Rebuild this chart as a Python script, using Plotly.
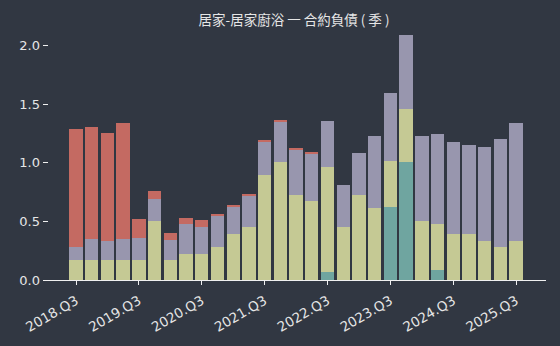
import plotly.graph_objects as go

quarters = []
for y in range(2018, 2026):
    for q in range(1, 5):
        if (y == 2018 and q < 3) or (y == 2025 and q > 3):
            continue
        quarters.append(f"{y}.Q{q}")

tick_labels = [q for q in quarters if q.endswith("Q3")]

# stacked segment heights (bottom -> top)
teal = [0, 0, 0, 0, 0, 0, 0, 0, 0, 0, 0, 0, 0, 0, 0, 0,
        0.068, 0, 0, 0, 0.621, 1.004, 0, 0.085, 0, 0, 0, 0, 0]
yellow_top = [0.170, 0.170, 0.170, 0.170, 0.170, 0.502, 0.170, 0.221, 0.221, 0.281,
              0.394, 0.454, 0.896, 1.007, 0.726, 0.672, 0.965, 0.454, 0.726, 0.616,
              1.013, 1.455, 0.502, 0.477, 0.391, 0.391, 0.332, 0.281, 0.332]
purple_top = [0.281, 0.349, 0.335, 0.349, 0.357, 0.689, 0.340, 0.477, 0.454, 0.548,
              0.627, 0.718, 1.177, 1.353, 1.115, 1.075, 1.353, 0.809, 1.081, 1.226,
              1.591, 2.085, 1.226, 1.243, 1.174, 1.149, 1.132, 1.200, 1.336]
red_top = [1.285, 1.302, 1.251, 1.336, 0.519, 0.757, 0.403, 0.528, 0.511, 0.565,
           0.633, 0.735, 1.186, 1.362, 1.123, 1.084, 1.353, 0.809, 1.081, 1.226,
           1.591, 2.085, 1.226, 1.243, 1.174, 1.149, 1.132, 1.200, 1.336]

yellow = [round(a - b, 3) for a, b in zip(yellow_top, teal)]
purple = [round(a - b, 3) for a, b in zip(purple_top, yellow_top)]
red = [round(a - b, 3) for a, b in zip(red_top, purple_top)]

series = [
    ("合約負債A", teal, "#6fa5a0"),
    ("合約負債B", yellow, "#c5c994"),
    ("合約負債C", purple, "#9896ae"),
    ("合約負債D", red, "#c46a62"),
]

bg = "#313742"
fig = go.Figure()
for name, vals, col in series:
    fig.add_trace(go.Bar(x=quarters, y=vals, name=name, marker=dict(color=col, line=dict(width=0))))

fig.update_layout(
    barmode="stack",
    bargap=0.15,
    width=560, height=346,
    paper_bgcolor=bg, plot_bgcolor=bg,
    margin=dict(l=43, r=14, t=22, b=66),
    showlegend=False,
    title=dict(text="居家-居家廚浴 一 合約負債 ( 季 )", x=0.525, xanchor="center", y=0.94, yanchor="middle",
               font=dict(family="Noto Sans CJK TC", size=13.5, color="#e6e6e6")),
    font=dict(family="DejaVu Sans", color="#e6e6e6", size=12),
    xaxis=dict(
        type="category",
        range=[-2.1, 29.9],
        tickmode="array", tickvals=tick_labels, ticktext=tick_labels,
        tickangle=-30,
        ticks="outside", ticklen=4, tickcolor="#f0f0f0", tickwidth=1,
        showline=True, linecolor="#f0f0f0", linewidth=1,
        showgrid=False, zeroline=False,
        tickfont=dict(size=13.5, color="#e6e6e6"),
        ticklabelstandoff=3,
    ),
    yaxis=dict(
        range=[0, 2.2],
        tickvals=[0, 0.5, 1.0, 1.5, 2.0], ticktext=["0.0", "0.5", "1.0", "1.5", "2.0"],
        ticks="inside", ticklen=5, tickcolor="#f0f0f0", tickwidth=1,
        showline=False, showgrid=False, zeroline=False,
        tickfont=dict(size=13, color="#e6e6e6"),
        ticklabelstandoff=2,
    ),
)

fig.write_html("out.html")
